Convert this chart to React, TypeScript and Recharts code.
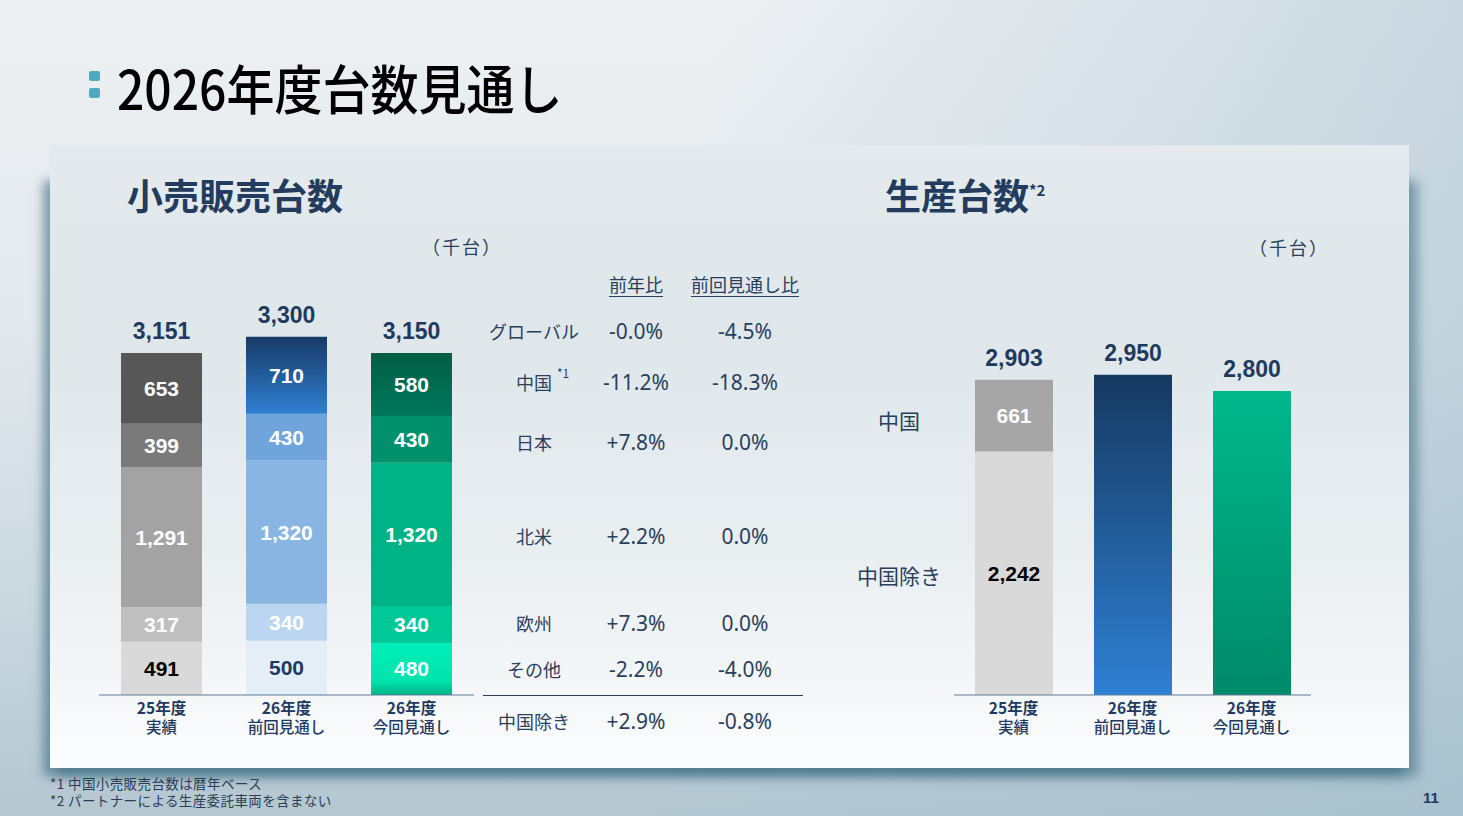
import React from 'react';
import { BarChart, Bar, XAxis, YAxis, Cell } from 'recharts';

// categories
const fiscalYears = ['25年度', '26年度', '26年度'];
const caseNames = ['実績', '前回見通し', '今回見通し'];

// 小売販売台数 (千台), bottom to top
const retailOther = [491, 500, 480];
const retailEurope = [317, 340, 340];
const retailNorthAmerica = [1291, 1320, 1320];
const retailJapan = [399, 430, 430];
const retailChina = [653, 710, 580];
const retailTotals = [3151, 3300, 3150];

// 生産台数 (千台)
const prodBase = [2242, 2950, 2800]; // 中国除き (25年度) / total (26年度)
const prodChina = [661, 0, 0];
const prodTotals = [2903, 2950, 2800];

// comparison table
const regionNames = ['グローバル', '中国', '日本', '北米', '欧州', 'その他'];
const yoyChange = ['-0.0%', '-11.2%', '+7.8%', '+2.2%', '+7.3%', '-2.2%'];
const vsPrevChange = ['-4.5%', '-18.3%', '0.0%', '0.0%', '0.0%', '-4.0%'];
const exChinaRow = ['中国除き', '+2.9%', '-0.8%'];

const footnotes = ['*1 中国小売販売台数は暦年ベース', '*2 パートナーによる生産委託車両を含まない'];

const NAVY = '#1f3a5f';
const TEXT = '#2a3f5c';
const JP = '"Noto Sans CJK JP", "Noto Sans", sans-serif';
const NUM = '"Liberation Sans", Arial, "Noto Sans CJK JP", sans-serif';
const PCT = '"Noto Sans", "Noto Sans CJK JP", sans-serif';

const categories = fiscalYears.map((f, i) => f + '|' + caseNames[i]);

const retailData = categories.map((c, i) => ({
  name: c,
  other: retailOther[i],
  europe: retailEurope[i],
  na: retailNorthAmerica[i],
  japan: retailJapan[i],
  china: retailChina[i],
}));

const prodData = categories.map((c, i) => ({
  name: c,
  base: prodBase[i],
  china: prodChina[i],
}));

const fmt = (v: number) => v.toLocaleString('en-US');

const box = (p: any) => {
  const v = p.viewBox || p;
  return { x: Number(p.x ?? v.x), y: Number(p.y ?? v.y), w: Number(p.width ?? v.width), h: Number(p.height ?? v.height) };
};

// segment label: the raw value comes from the series array (stacked labels carry cumulative values)
const segLabel = (values: number[], colors: string[]) => (p: any) => {
  const { x, y, w, h } = box(p);
  const i = p.index;
  if (!values[i]) return null;
  return (
    <text x={x + w / 2} y={y + h / 2} textAnchor="middle" dominantBaseline="central"
      fill={colors[i]} fontSize={21} fontWeight={700} fontFamily={NUM}>
      {fmt(values[i])}
    </text>
  );
};

const totalText = (x: number, y: number, v: number) => (
  <text x={x} y={y - 14} textAnchor="middle" fill={NAVY} fontSize={23} fontWeight={700} fontFamily={NUM}>
    {fmt(v)}
  </text>
);

const CatTick = (p: any) => {
  const [fy, cs] = String(p.payload.value).split('|');
  return (
    <g>
      <text x={p.x} y={p.y + 19} textAnchor="middle" fill={NAVY} fontSize={15.5} fontWeight={700} fontFamily={JP}>{fy}</text>
      <text x={p.x} y={p.y + 38} textAnchor="middle" fill={NAVY} fontSize={15.5} fontWeight={500} fontFamily={JP}>{cs}</text>
    </g>
  );
};

const retailColors = {
  other: ['#d9d9d9', '#e5edf7', 'url(#gCurOther)'],
  europe: ['#bfbfbf', '#bcd5f0', '#00c896'],
  na: ['#a3a3a3', '#88b5e1', '#00b386'],
  japan: ['#7a7a7a', '#6fa5db', '#00916c'],
  china: ['#575757', 'url(#gPrevChina)', 'url(#gCurChina)'],
};
const W = '#ffffff';

const Gradients = () => (
  <defs>
    <linearGradient id="gPrevChina" x1="0" y1="0" x2="0" y2="1">
      <stop offset="0%" stopColor="#173a66" />
      <stop offset="100%" stopColor="#2f7fd2" />
    </linearGradient>
    <linearGradient id="gCurChina" x1="0" y1="0" x2="0" y2="1">
      <stop offset="0%" stopColor="#005e45" />
      <stop offset="100%" stopColor="#00785a" />
    </linearGradient>
    <linearGradient id="gCurOther" x1="0" y1="0" x2="0" y2="1">
      <stop offset="0%" stopColor="#00f0b9" />
      <stop offset="75%" stopColor="#00e2ac" />
      <stop offset="100%" stopColor="#00b287" />
    </linearGradient>
    <linearGradient id="gProdPrev" x1="0" y1="0" x2="0" y2="1">
      <stop offset="0%" stopColor="#163960" />
      <stop offset="100%" stopColor="#2f80d4" />
    </linearGradient>
    <linearGradient id="gProdCur" x1="0" y1="0" x2="0" y2="1">
      <stop offset="0%" stopColor="#00b88b" />
      <stop offset="100%" stopColor="#008a69" />
    </linearGradient>
  </defs>
);

function RetailChart() {
  return (
    <BarChart width={375} height={490} data={retailData} margin={{ top: 60, right: 0, left: 0, bottom: 0 }} barSize={81} style={{ overflow: 'visible' }}>
      <Gradients />
      <YAxis hide domain={[0, 3500]} />
      <XAxis dataKey="name" height={50} tickLine={false} tickSize={0} tickMargin={0} interval={0}
        axisLine={{ stroke: '#5d7d99', strokeWidth: 1.2 }} tick={<CatTick />} />
      <Bar dataKey="other" stackId="r" isAnimationActive={false} label={segLabel(retailOther, ['#000000', NAVY, W])}>
        {retailData.map((_, i) => <Cell key={i} fill={retailColors.other[i]} />)}
      </Bar>
      <Bar dataKey="europe" stackId="r" isAnimationActive={false} label={segLabel(retailEurope, [W, W, W])}>
        {retailData.map((_, i) => <Cell key={i} fill={retailColors.europe[i]} />)}
      </Bar>
      <Bar dataKey="na" stackId="r" isAnimationActive={false} label={segLabel(retailNorthAmerica, [W, W, W])}>
        {retailData.map((_, i) => <Cell key={i} fill={retailColors.na[i]} />)}
      </Bar>
      <Bar dataKey="japan" stackId="r" isAnimationActive={false} label={segLabel(retailJapan, [W, W, W])}>
        {retailData.map((_, i) => <Cell key={i} fill={retailColors.japan[i]} />)}
      </Bar>
      <Bar dataKey="china" stackId="r" isAnimationActive={false}
        label={(p: any) => {
          const { x, y, w } = box(p);
          return (
            <g>
              {segLabel(retailChina, [W, W, W])(p)}
              {totalText(x + w / 2, y, retailTotals[p.index])}
            </g>
          );
        }}>
        {retailData.map((_, i) => <Cell key={i} fill={retailColors.china[i]} />)}
      </Bar>
    </BarChart>
  );
}

const prodBaseColors = ['#d9d9d9', 'url(#gProdPrev)', 'url(#gProdCur)'];

function ProductionChart() {
  return (
    <BarChart width={357} height={490} data={prodData} margin={{ top: 60, right: 0, left: 0, bottom: 0 }} barSize={78} style={{ overflow: 'visible' }}>
      <Gradients />
      <YAxis hide domain={[0, 3500]} />
      <XAxis dataKey="name" height={50} tickLine={false} tickSize={0} tickMargin={0} interval={0}
        axisLine={{ stroke: '#5d7d99', strokeWidth: 1.2 }} tick={<CatTick />} />
      <Bar dataKey="base" stackId="p" isAnimationActive={false}
        label={(p: any) => {
          const { x, y, w } = box(p);
          const i = p.index;
          if (prodChina[i] > 0) return segLabel(prodBase, ['#000000', W, W])(p);
          return totalText(x + w / 2, y, prodTotals[i]);
        }}>
        {prodData.map((_, i) => <Cell key={i} fill={prodBaseColors[i]} />)}
      </Bar>
      <Bar dataKey="china" stackId="p" isAnimationActive={false}
        label={(p: any) => {
          const { x, y, w } = box(p);
          const i = p.index;
          if (!(prodChina[i] > 0)) return null;
          return (
            <g>
              {segLabel(prodChina, [W, W, W])(p)}
              {totalText(x + w / 2, y, prodTotals[i])}
            </g>
          );
        }}>
        {prodData.map((_, i) => <Cell key={i} fill="#a6a6a6" />)}
      </Bar>
    </BarChart>
  );
}

const abs = (left: number, top: number, extra: React.CSSProperties = {}): React.CSSProperties => ({
  position: 'absolute', left, top, ...extra,
});

const centered = (cx: number, cy: number, extra: React.CSSProperties = {}): React.CSSProperties => ({
  position: 'absolute', left: cx, top: cy, transform: 'translate(-50%, -50%)', whiteSpace: 'nowrap', lineHeight: 1, ...extra,
});

// row centres of the table line up with the 今回見通し segments
const rowY = [331, 382, 442, 536, 623, 669];

export default function App() {
  return (
    <div style={{
      position: 'absolute', left: 0, top: 0, width: 1463, height: 816, overflow: 'hidden',
      background: 'linear-gradient(100deg, rgba(255,255,255,0) 45%, rgba(160,188,204,0.55) 100%), linear-gradient(to bottom, #edf0f3 0%, #e3e9ed 40%, #c9d7df 75%, #b4c7d1 100%)',
      fontFamily: JP,
    }}>
      {/* panel shadow and panel */}
      <div style={abs(50, 175, {
        width: 1359, height: 593,
        boxShadow: '-6px 7px 10px 1px rgba(55,105,125,0.6), 8px 7px 10px 1px rgba(55,105,125,0.5)',
      })} />
      <div style={abs(50, 145, {
        width: 1359, height: 623,
        background: 'linear-gradient(to bottom, #e4eaee 0%, #dfe7eb 30%, #e9eef1 65%, #fbfcfd 100%)',
      })} />

      {/* title */}
      <div style={abs(89, 71, { width: 11, height: 10, background: '#4eaabf', borderRadius: 2 })} />
      <div style={abs(89, 88, { width: 11, height: 10, background: '#4eaabf', borderRadius: 2 })} />
      <div style={abs(117, 58, {
        fontSize: 48, fontWeight: 500, color: '#000', lineHeight: 1, whiteSpace: 'nowrap',
        transform: 'scale(1.0, 1.12)', transformOrigin: 'left center', height: 56,
        display: 'flex', alignItems: 'center',
      })}>2026年度台数見通し</div>

      {/* section titles */}
      <div style={abs(127, 176, { fontSize: 36, fontWeight: 700, color: '#233b5c', lineHeight: 1, whiteSpace: 'nowrap' })}>小売販売台数</div>
      <div style={abs(885, 176, { fontSize: 36, fontWeight: 700, color: '#233b5c', lineHeight: 1, whiteSpace: 'nowrap' })}>
        生産台数<span style={{ fontSize: 15, verticalAlign: 'top', position: 'relative', top: 6 }}>*2</span>
      </div>
      <div style={centered(462, 246, { fontSize: 18, letterSpacing: 2, color: TEXT })}>（千台）</div>
      <div style={centered(1289, 247, { fontSize: 18, letterSpacing: 2, color: TEXT })}>（千台）</div>

      {/* retail chart */}
      <div style={abs(98.5, 255)}><RetailChart /></div>

      {/* table */}
      <div style={centered(636, 284, { fontSize: 18, color: TEXT, textDecoration: 'underline', textUnderlineOffset: 4 })}>前年比</div>
      <div style={centered(745, 284, { fontSize: 18, color: TEXT, textDecoration: 'underline', textUnderlineOffset: 4 })}>前回見通し比</div>
      {regionNames.map((r, i) => (
        <React.Fragment key={r}>
          <div style={centered(534, rowY[i], { fontSize: 18, color: TEXT })}>
            {r}{i === 1 ? <span style={{ position: 'absolute', left: '100%', top: -6, marginLeft: 5, fontSize: 12 }}>*1</span> : null}
          </div>
          <div style={centered(636, rowY[i], { fontSize: 21, color: TEXT, fontFamily: PCT })}>{yoyChange[i]}</div>
          <div style={centered(745, rowY[i], { fontSize: 21, color: TEXT, fontFamily: PCT })}>{vsPrevChange[i]}</div>
        </React.Fragment>
      ))}
      <div style={abs(483, 695, { width: 320, height: 1, background: '#2a3f5c' })} />
      <div style={centered(534, 721, { fontSize: 18, color: TEXT })}>{exChinaRow[0]}</div>
      <div style={centered(636, 721, { fontSize: 21, color: TEXT, fontFamily: PCT })}>{exChinaRow[1]}</div>
      <div style={centered(745, 721, { fontSize: 21, color: TEXT, fontFamily: PCT })}>{exChinaRow[2]}</div>

      {/* production chart */}
      <div style={centered(899, 420, { fontSize: 21, color: TEXT })}>中国</div>
      <div style={centered(899, 575, { fontSize: 21, color: TEXT })}>中国除き</div>
      <div style={abs(953.5, 255)}><ProductionChart /></div>

      {/* footnotes */}
      {footnotes.map((f, i) => (
        <div key={f} style={abs(50, 777 + i * 17, { fontSize: 13.5, letterSpacing: 0.4, color: '#2b3d55', lineHeight: 1, whiteSpace: 'nowrap' })}>{f}</div>
      ))}
      <div style={centered(1431, 797, { fontSize: 15, fontWeight: 700, color: NAVY, fontFamily: NUM })}>11</div>
    </div>
  );
}
